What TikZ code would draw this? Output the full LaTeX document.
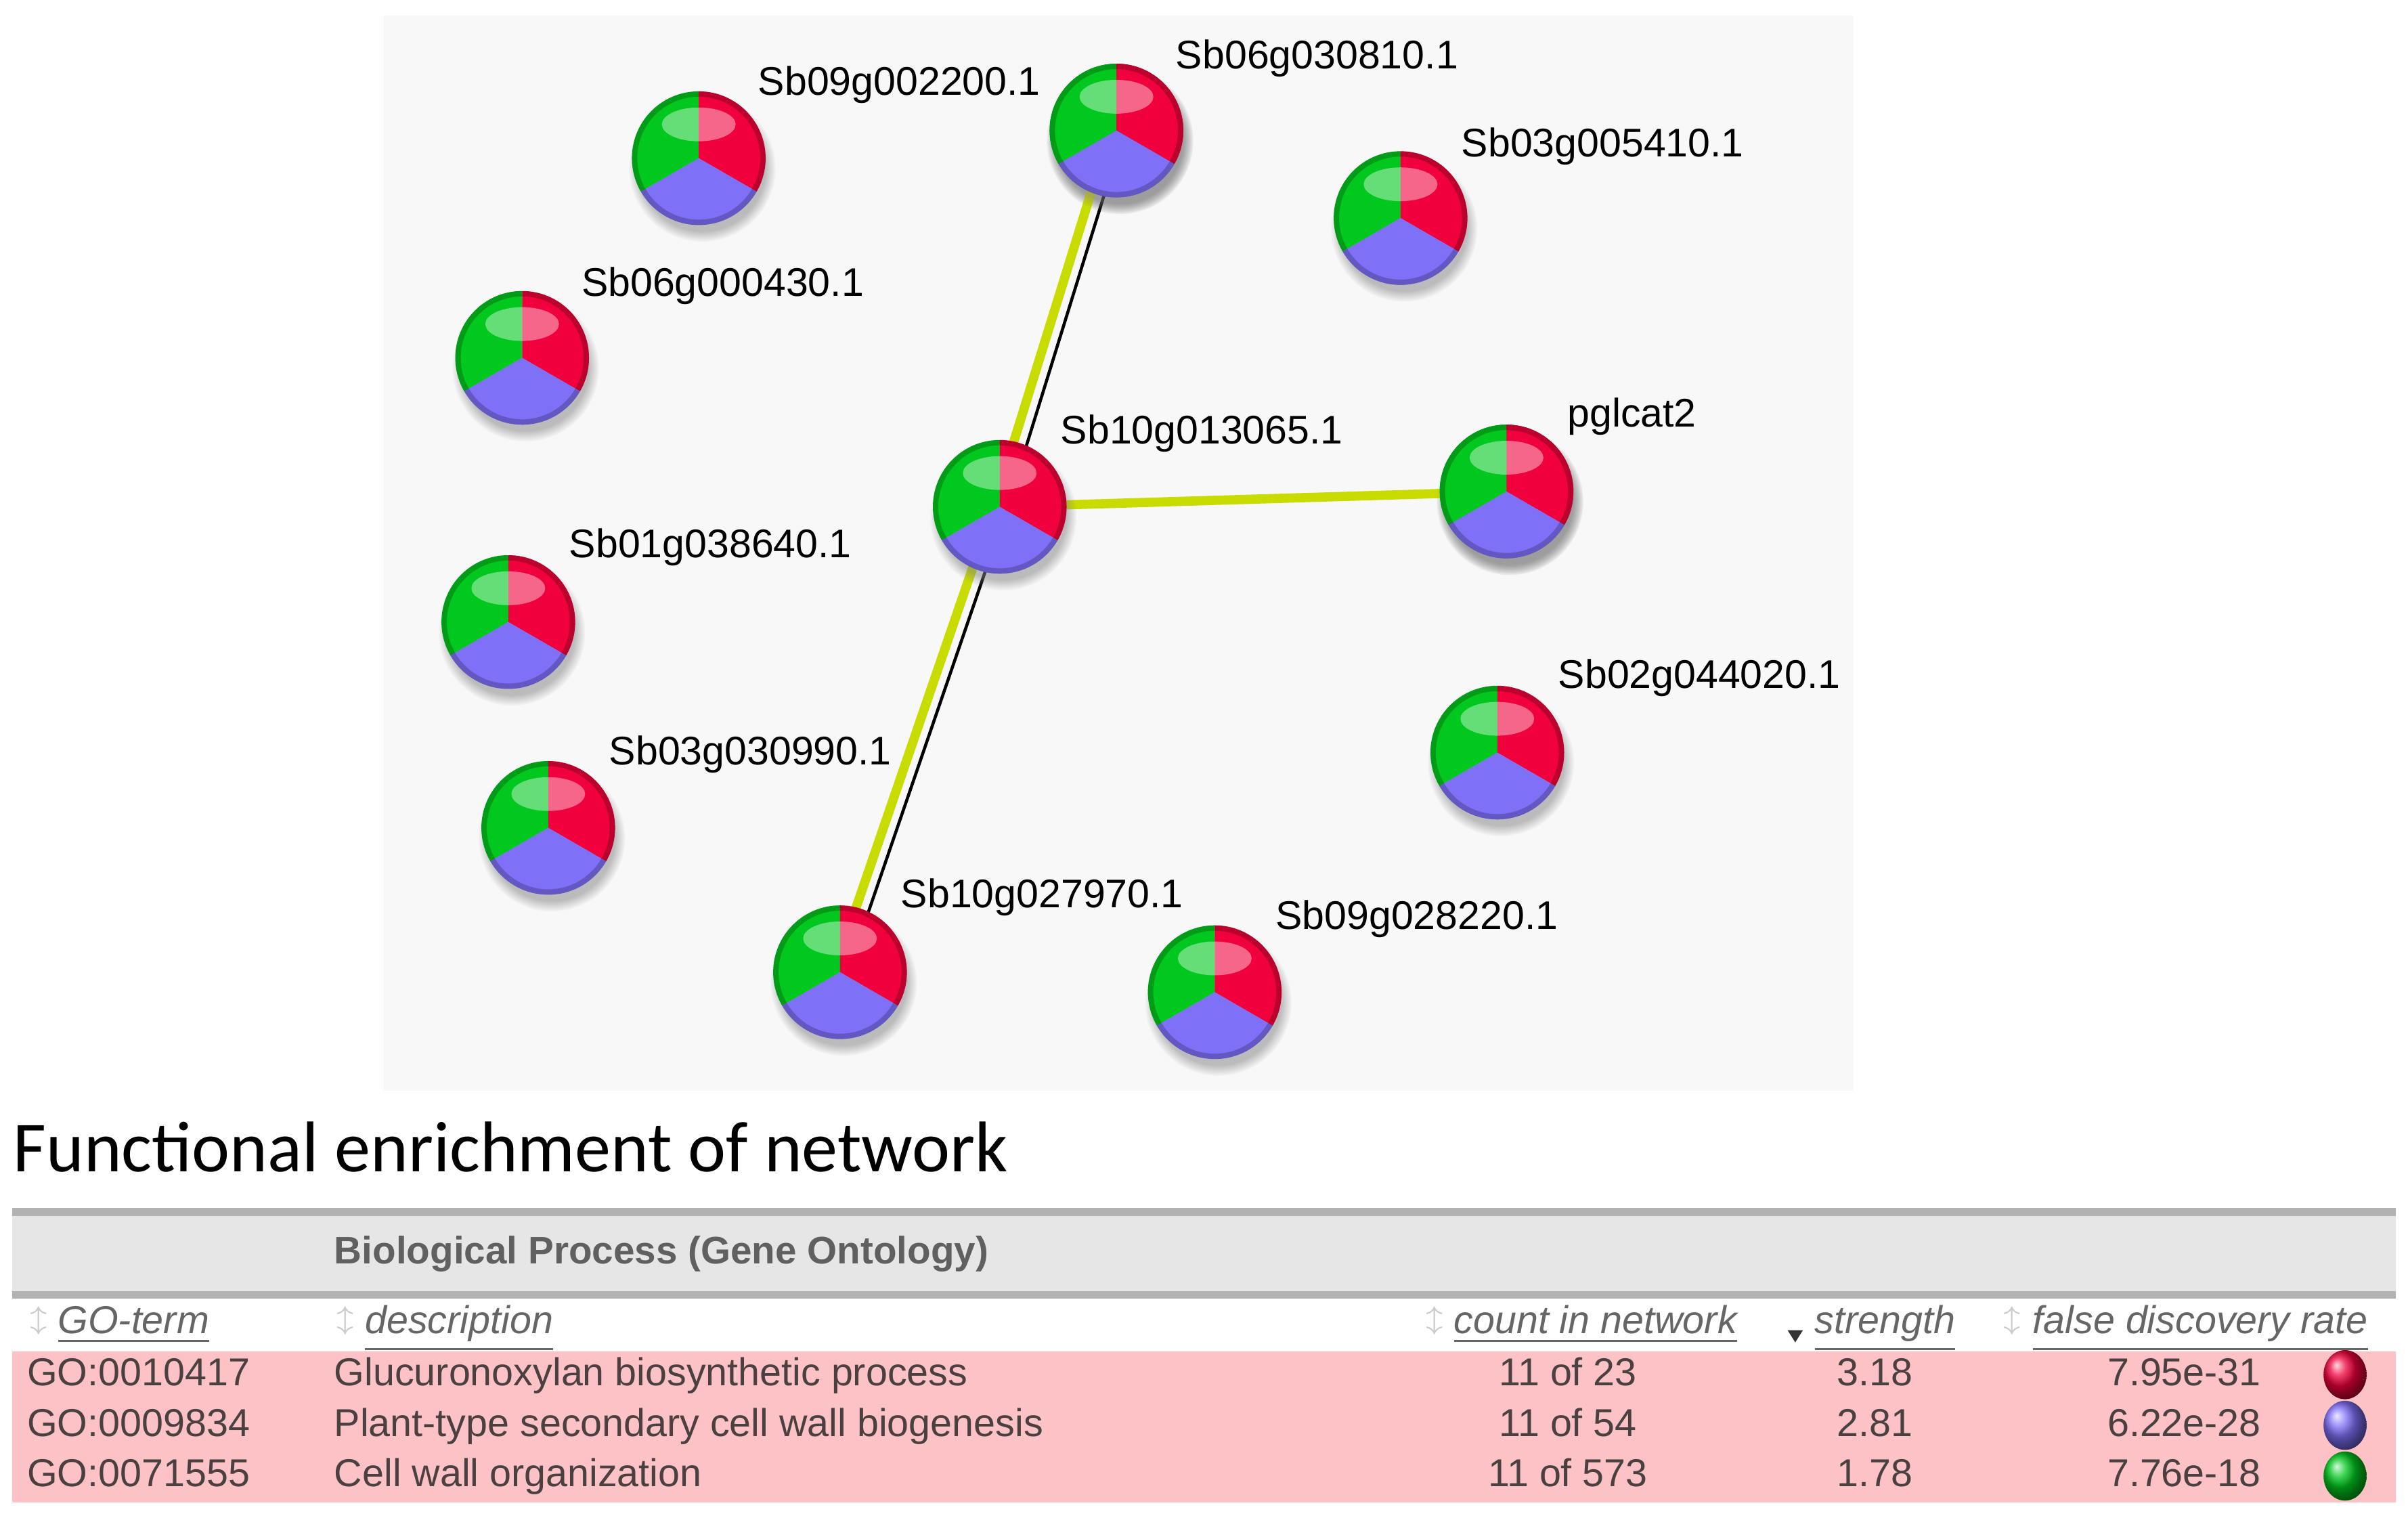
\documentclass[tikz,border=0pt]{standalone}
\usepackage{fontspec}
\setmainfont{Liberation Sans}
\newfontfamily\calfont{Carlito}
\usetikzlibrary{shadows}
\definecolor{pg}{HTML}{00C81E}
\definecolor{pr}{HTML}{F0003C}
\definecolor{pb}{HTML}{7F70F8}
\definecolor{ylw}{HTML}{C8DC00}
\definecolor{panel}{HTML}{F8F8F8}
\definecolor{pink}{HTML}{FCC2C6}
\definecolor{hdr}{HTML}{E6E6E6}
\definecolor{txt}{HTML}{4A4040}
\tikzset{
  ball/.style={circle, minimum size=0.87cm, inner sep=0pt,
    circular drop shadow={shadow xshift=0.02cm, shadow yshift=-0.06cm, opacity=0.5},
    path picture={
      \fill[pg] (path picture bounding box.center) -- +(90:1cm) -- +(150:1.2cm) -- +(210:1cm) -- cycle;
      \fill[pr] (path picture bounding box.center) -- +(90:1cm) -- +(30:1.2cm) -- +(-30:1cm) -- cycle;
      \fill[pb] (path picture bounding box.center) -- +(210:1cm) -- +(270:1.2cm) -- +(330:1cm) -- cycle;
      \fill[white, opacity=0.4] ([yshift=0.22cm]path picture bounding box.center) ellipse (0.24cm and 0.11cm);
      \draw[black, opacity=0.22, line width=0.07cm] (path picture bounding box.center) circle (0.435cm);
    }},
  lab/.style={anchor=south west, inner sep=0pt, font=\fontsize{7.4}{8}\selectfont},
  ed/.style={ylw, line width=0.06cm},
  bl/.style={black, line width=0.02cm},
  th/.style={anchor=base west, inner sep=0pt, font=\fontsize{7.2}{8}\selectfont\itshape, text=gray!80!black},
  td/.style={inner sep=0pt, font=\fontsize{7.2}{8}\selectfont, text=txt},
}
\begin{document}
\begin{tikzpicture}[x=0.01cm, y=-0.01cm]
\useasboundingbox (0,0) rectangle (1568,988);
\fill[white] (0,0) rectangle (1568,988);
\fill[panel] (250,10) rectangle (1207,710);
% nodes
\node[ball] (n1) at (455,103) {};
\node[ball] (n2) at (727,85) {};
\node[ball] (n3) at (912,142) {};
\node[ball] (n4) at (340,233) {};
\node[ball] (n6) at (981,320) {};
\node[ball] (n7) at (331,405) {};
\node[ball] (n8) at (975,490) {};
\node[ball] (n9) at (357,539) {};
\node[ball] (n11) at (791,646) {};
% edges
\draw[ed] ([xshift=-0.04cm]n2.center) -- ([xshift=-0.04cm]651,330);
\draw[bl] ([xshift=0.05cm]n2.center) -- ([xshift=0.05cm]651,330);
\draw[ed] (651,330) -- (n6.center);
\draw[ed] ([xshift=-0.04cm]651,330) -- ([xshift=-0.04cm]547,633);
\draw[bl] ([xshift=0.05cm]651,330) -- ([xshift=0.05cm]547,633);
\node[ball] (n5) at (651,330) {};
\node[ball] (n10) at (547,633) {};
\node[ball] (n2b) at (727,85) {};
\node[ball] (n6b) at (981,320) {};
% labels
\node[lab] (l1) at (493,68) {Sb09g002200.1};
\node[lab] (l2) at (765,51) {Sb06g030810.1};
\node[lab] (l3) at (951,108) {Sb03g005410.1};
\node[lab] (l4) at (378,199) {Sb06g000430.1};
\node[lab] (l5) at (690,295) {Sb10g013065.1};
\node[lab] (l6) at (1020,284) {pglcat2};
\node[lab] (l7) at (370,369) {Sb01g038640.1};
\node[lab] (l8) at (1014,454) {Sb02g044020.1};
\node[lab] (l9) at (396,504) {Sb03g030990.1};
\node[lab] (l10) at (586,597) {Sb10g027970.1};
\node[lab] (l11) at (830,611) {Sb09g028220.1};
% title
\node[anchor=base west, inner sep=0pt, font=\calfont\fontsize{13.3}{15}\selectfont] (title) at (8,763) {Functional enrichment of network};
% table
\fill[hdr] (8,789) rectangle (1560,843);
\draw[gray!60, line width=0.05cm] (8,789) -- (1560,789);
\draw[gray!60, line width=0.05cm] (8,843) -- (1560,843);
\node[anchor=base west, inner sep=0pt, font=\fontsize{7.1}{8}\selectfont\bfseries, text=gray!75!black] (bp) at (217,823) {Biological Process (Gene Ontology)};
\node[th] (h1) at (37,868) {\underline{GO-term}};
\node[th] (h2) at (237,868) {\underline{description}};
\node[th] (h3) at (946,868) {\underline{count in network}};
\node[th] (h4) at (1181,868) {\underline{strength}};
\node[th] (h5) at (1323,868) {\underline{false discovery rate}};
\fill[black!80] (1164,866) -- (1174,866) -- (1169,874) -- cycle;
\foreach \x in {25,225,934,1310} \node[inner sep=0pt, text=gray!40, font=\fontsize{5}{5}\selectfont] at (\x,860) {$\updownarrow$};
\fill[pink] (8,880) rectangle (1560,978);
\foreach \y/\go/\d/\c/\s/\f/\col in {902/GO:0010417/Glucuronoxylan biosynthetic process/11 of 23/3.18/7.95e-31/pr,
 935/GO:0009834/Plant-type secondary cell wall biogenesis/11 of 54/2.81/6.22e-28/pb,
 968/GO:0071555/Cell wall organization/11 of 573/1.78/7.76e-18/pg}{
  \node[td, anchor=base west] at (17,\y) {\go};
  \node[td, anchor=base west] at (217,\y) {\d};
  \node[td, anchor=base] at (1021,\y) {\c};
  \node[td, anchor=base] at (1221,\y) {\s};
  \node[td, anchor=base east] at (1473,\y) {\f};
  \shade[ball color=\col] (1527,\y-7) ellipse (14 and 16);
}
\end{tikzpicture}
\end{document}
